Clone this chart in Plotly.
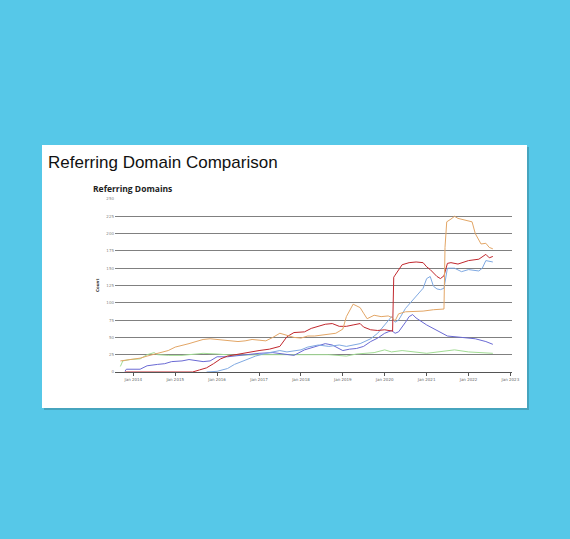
import plotly.graph_objects as go

W, H = 570, 539

# ---- data ----
orange_dates = ["2013-09-10","2013-11-01","2014-01-01","2014-03-01","2014-05-01","2014-07-01","2014-09-01","2014-11-01",
                "2015-01-01","2015-03-01","2015-05-01","2015-07-01","2015-09-01","2015-11-01","2016-01-01","2016-03-01",
                "2016-05-01","2016-07-01","2016-09-01","2016-11-01","2017-01-01","2017-03-01","2017-05-01","2017-07-01",
                "2017-09-01","2017-11-01","2018-01-01","2018-03-01","2018-05-01","2018-07-01","2018-09-01","2018-11-01",
                "2019-01-01","2019-02-01","2019-04-01","2019-06-01","2019-07-01","2019-08-01","2019-10-01","2019-12-01",
                "2020-02-01","2020-03-01","2020-04-01","2020-05-01","2020-07-01","2020-09-01","2020-12-01","2021-03-01",
                "2021-06-01","2021-06-10","2021-06-25","2021-08-01","2021-09-01","2021-10-01","2021-12-01","2022-01-01",
                "2022-02-01","2022-03-01","2022-04-20","2022-06-01","2022-07-01","2022-08-01"]
orange_vals = [16,17,18,20,23,26,29,31,36,38,41,44,47,48,47,46,46,44,45,47,46,45,50,56,53,50,49,52,52,53,54,56,
               62,80,98,93,85,77,82,80,81,79,74,84,87,87,88,90,91,180,217,221,225,222,220,219,217,200,185,186,180,178]

red_dates = ["2013-10-20","2015-06-01","2015-08-01","2015-10-01","2015-12-01","2016-02-01","2016-04-01","2016-06-01",
             "2016-09-01","2017-01-01","2017-04-01","2017-07-01","2017-09-01","2017-11-01","2018-02-01","2018-04-01",
             "2018-08-01","2018-10-01","2018-12-01","2019-02-01","2019-04-01","2019-06-01","2019-07-01","2019-09-01",
             "2019-11-01","2020-01-01","2020-03-10","2020-03-20","2020-04-01","2020-06-01","2020-08-01","2020-10-01",
             "2020-12-01","2021-01-01","2021-02-01","2021-04-01","2021-05-01","2021-06-01","2021-07-01","2021-08-01",
             "2021-10-01","2022-01-01","2022-04-01","2022-06-01","2022-07-01","2022-08-01"]
red_vals = [0,0,3,6,12,19,23,25,28,31,33,37,51,57,58,63,69,70,66,66,68,70,65,61,60,61,59,137,140,155,158,159,
            158,152,148,138,135,139,157,158,156,161,163,170,165,167]

blue_dates = ["2015-10-01","2016-01-01","2016-04-01","2016-06-01","2016-09-01","2016-12-01","2017-03-01","2017-07-01",
              "2017-09-01","2018-01-01","2018-03-01","2018-06-01","2018-09-01","2018-12-01","2019-02-01","2019-04-01",
              "2019-06-01","2019-09-01","2019-11-01","2020-01-01","2020-02-01","2020-03-01","2020-04-01","2020-05-01",
              "2020-07-01","2020-09-01","2020-10-01","2020-12-01","2021-01-01","2021-02-01","2021-03-01","2021-04-01",
              "2021-05-01","2021-06-01","2021-07-01","2021-09-01","2021-11-01","2022-01-01","2022-04-01","2022-05-01",
              "2022-06-01","2022-08-01"]
blue_vals = [0,1,5,11,17,23,27,31,29,32,36,39,37,39,37,39,41,48,56,68,75,80,72,75,92,104,109,121,135,138,124,120,
             119,121,150,150,145,148,146,150,161,159]

purple_dates = ["2013-10-20","2013-11-01","2014-03-01","2014-05-01","2014-08-01","2014-10-01","2014-12-01","2015-03-01",
                "2015-05-01","2015-07-01","2015-09-01","2015-11-01","2016-01-01","2016-04-01","2016-07-01","2016-10-01",
                "2017-01-01","2017-05-01","2017-09-01","2017-11-01","2018-02-01","2018-05-01","2018-08-01","2018-10-01",
                "2019-01-01","2019-03-01","2019-05-01","2019-07-01","2019-09-01","2019-11-01","2020-01-01","2020-02-01",
                "2020-03-01","2020-04-01","2020-05-01","2020-07-01","2020-08-01","2020-09-01","2020-10-01","2021-01-01",
                "2021-04-01","2021-07-01","2021-11-01","2022-03-01","2022-06-01","2022-08-01"]
purple_vals = [1,4,4,9,11,12,15,16,18,17,15,16,22,22,24,26,27,28,25,24,32,36,41,39,31,33,34,37,44,49,56,58,
               60,56,58,72,80,83,78,68,60,52,50,48,44,40]

green_dates = ["2013-09-10","2013-10-01","2013-12-01","2014-03-01","2014-05-01","2014-07-01","2014-08-01","2014-11-01",
               "2015-03-01","2015-06-01","2015-09-01","2016-01-01","2016-06-01","2017-01-01","2018-01-01","2018-09-01",
               "2019-02-01","2019-05-01","2019-10-01","2020-01-01","2020-03-01","2020-06-01","2021-01-01","2021-05-01",
               "2021-09-01","2022-01-01","2022-05-01","2022-08-01"]
green_vals = [8,16,18,19,25,28,25,24,24,25,27,26,24,25,25,25,23,26,28,32,29,31,27,29,32,29,28,27]

y_ticks = [0,25,50,75,100,125,150,175,200,225,250]
x_tick_dates = ["2014-01-01","2015-01-01","2016-01-01","2017-01-01","2018-01-01","2019-01-01",
                "2020-01-01","2021-01-01","2022-01-01","2023-01-01"]
x_tick_labels = ["Jan 2014","Jan 2015","Jan 2016","Jan 2017","Jan 2018","Jan 2019",
                 "Jan 2020","Jan 2021","Jan 2022","Jan 2023"]

series = [
    (green_dates, green_vals, "#A2DC94"),
    (purple_dates, purple_vals, "#6A6AD4"),
    (blue_dates, blue_vals, "#7FA9E2"),
    (red_dates, red_vals, "#C1272D"),
    (orange_dates, orange_vals, "#E3A666"),
]

def px(x): return x / W
def py(y): return 1 - y / H

fig = go.Figure()
for d, v, c in series:
    fig.add_trace(go.Scatter(x=d, y=v, mode="lines", line=dict(color=c, width=1), showlegend=False, hoverinfo="skip"))

fig.update_layout(
    width=W, height=H,
    margin=dict(l=0, r=0, t=0, b=0, pad=0, autoexpand=False),
    paper_bgcolor="#56C8E8",
    plot_bgcolor="rgba(0,0,0,0)",
    showlegend=False,
    xaxis=dict(
        domain=[px(115), px(512)],
        type="date", automargin=False,
        range=["2013-07-25", "2023-01-15"],
        tickvals=x_tick_dates, ticktext=x_tick_labels,
        showgrid=False, zeroline=False,
        showline=True, linecolor="#555555", linewidth=1,
        ticks="outside", ticklen=3, tickcolor="#555555",
        tickfont=dict(family="DejaVu Sans", size=4, color="#666666"),
    ),
    yaxis=dict(
        domain=[py(372), py(199)],
        range=[0, 250], automargin=False,
        tickvals=y_ticks,
        showgrid=True, gridcolor="#808080", gridwidth=1,
        zeroline=False, showline=False, ticks="",
        tickfont=dict(family="DejaVu Sans", size=4, color="#888888"),
    ),
    shapes=[
        dict(type="rect", xref="paper", yref="paper", layer="below",
             x0=px(44), x1=px(529), y0=py(410), y1=py(147),
             fillcolor="rgba(0,0,0,0.18)", line=dict(width=0)),
        dict(type="rect", xref="paper", yref="paper", layer="below",
             x0=px(42), x1=px(527), y0=py(408), y1=py(145),
             fillcolor="#ffffff", line=dict(width=0)),
    ],
    annotations=[
        dict(text="Referring Domain Comparison", xref="paper", yref="paper",
             x=px(46), y=py(162), xanchor="left", yanchor="middle", showarrow=False,
             font=dict(family="Liberation Sans", size=17, color="#111111")),
        dict(text="<b>Referring Domains</b>", xref="paper", yref="paper",
             x=px(90.5), y=py(188.5), xanchor="left", yanchor="middle", showarrow=False,
             font=dict(family="Open Sans", size=8.5, color="#222222")),
        dict(text="<b>Count</b>", xref="paper", yref="paper",
             x=px(97), y=py(286), xanchor="center", yanchor="middle", showarrow=False,
             textangle=-90, font=dict(family="DejaVu Sans", size=4, color="#333333")),
    ],
)

post = """
var s = document.createElement('style');
s.textContent = 'html,body{margin:0;padding:0;width:570px;height:539px;overflow:hidden;}';
document.head.appendChild(s);
"""
fig.write_html("out.html", config={"displayModeBar": False}, post_script=post)
